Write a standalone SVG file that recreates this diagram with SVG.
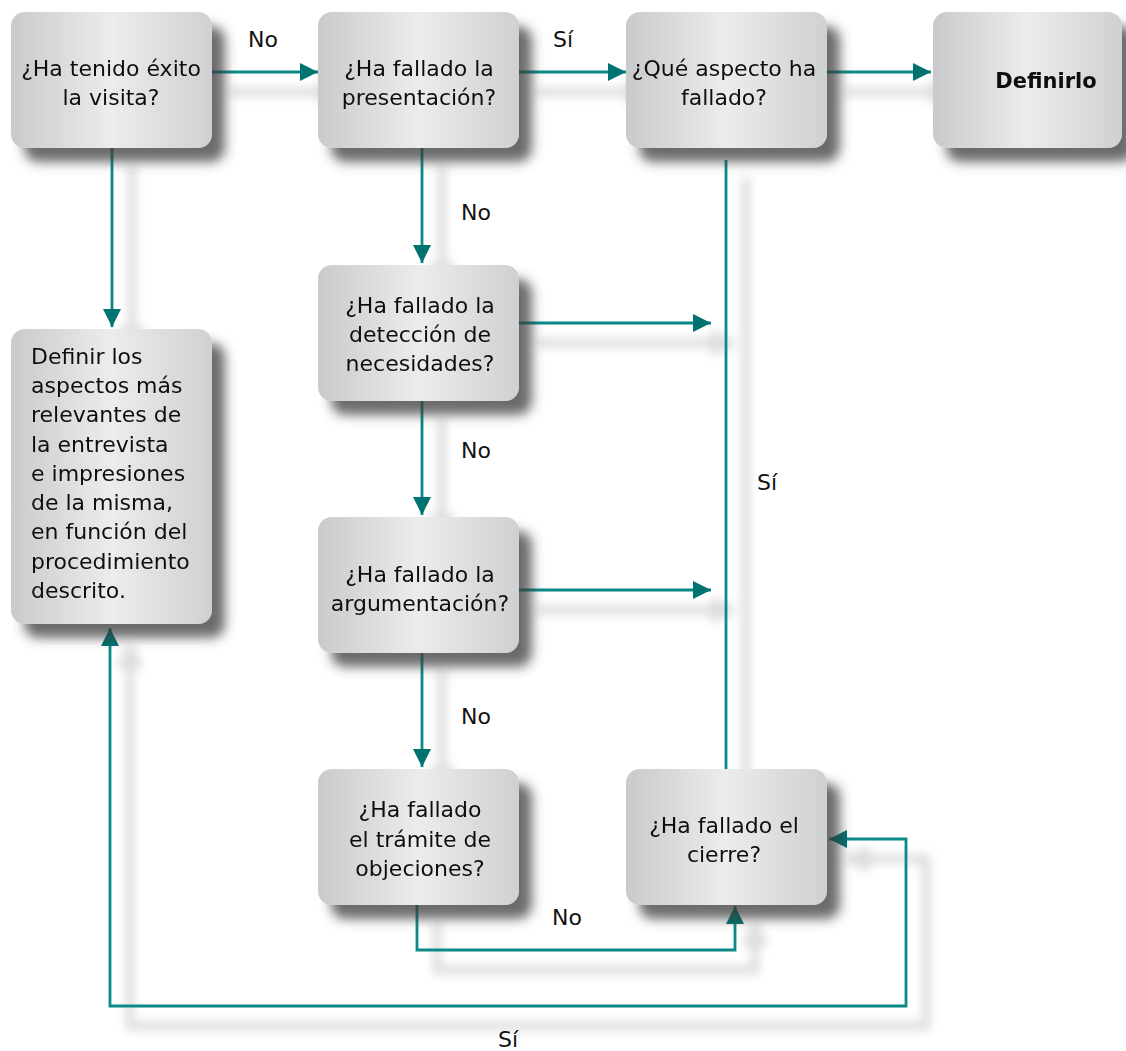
<svg xmlns="http://www.w3.org/2000/svg" width="1126" height="1051" viewBox="0 0 1126 1051">
<defs>
<linearGradient id="g" x1="0" y1="0" x2="1" y2="0">
<stop offset="0" stop-color="#c9cacc"/>
<stop offset="0.5" stop-color="#ececec"/>
<stop offset="1" stop-color="#cfd0d2"/>
</linearGradient>
<filter id="ns" x="-20%" y="-20%" width="150%" height="150%">
<feGaussianBlur in="SourceAlpha" stdDeviation="6"/>
<feOffset dx="13" dy="14" result="b"/>
<feFlood flood-color="#3a3a3a" flood-opacity="0.75"/>
<feComposite in2="b" operator="in" result="s"/>
<feMerge><feMergeNode in="s"/><feMergeNode in="SourceGraphic"/></feMerge>
</filter>
<filter id="cs" x="-10%" y="-10%" width="130%" height="130%">
<feMorphology in="SourceAlpha" operator="dilate" radius="3"/>
<feGaussianBlur stdDeviation="5"/>
<feOffset dx="20" dy="20" result="b"/>
<feFlood flood-color="#000" flood-opacity="0.13"/>
<feComposite in2="b" operator="in" result="s"/>
<feMerge><feMergeNode in="s"/><feMergeNode in="SourceGraphic"/></feMerge>
</filter>
<marker id="ah" viewBox="0 0 18 18" refX="18" refY="9" markerWidth="18" markerHeight="18" markerUnits="userSpaceOnUse" orient="auto-start-reverse">
<path d="M0,0 L18,9 L0,18 Z" fill="#00736f"/>
</marker>
<style>
.box{fill:url(#g);}
.t{font-family:"DejaVu Sans",Verdana,sans-serif;font-size:22px;fill:#111;text-anchor:middle;}
.tl{font-family:"DejaVu Sans",Verdana,sans-serif;font-size:22px;fill:#111;}
.lb{font-family:"DejaVu Sans",Verdana,sans-serif;font-size:22px;fill:#111;text-anchor:middle;}
.c{fill:none;stroke:#0b8a87;stroke-width:2.8;}
</style>
</defs>
<rect width="1126" height="1051" fill="#fff"/>

<g id="connectors" filter="url(#cs)">
<path class="c" d="M212,72 H318" marker-end="url(#ah)"/>
<path class="c" d="M519,72 H626" marker-end="url(#ah)"/>
<path class="c" d="M827,72 H931" marker-end="url(#ah)"/>
<path class="c" d="M112,148 V327" marker-end="url(#ah)"/>
<path class="c" d="M422,148 V263" marker-end="url(#ah)"/>
<path class="c" d="M422,401 V515" marker-end="url(#ah)"/>
<path class="c" d="M422,653 V767" marker-end="url(#ah)"/>
<path class="c" d="M519,323 H711" marker-end="url(#ah)"/>
<path class="c" d="M519,590 H711" marker-end="url(#ah)"/>
<path class="c" d="M726,160 V769"/>
<path class="c" d="M417,905 V950 H735 V906" marker-end="url(#ah)"/>
<path class="c" d="M829,839 H906 V1006 H110 V628" marker-start="url(#ah)" marker-end="url(#ah)"/>
</g>

<g id="n1" filter="url(#ns)"><rect class="box" x="11" y="12" width="201" height="136" rx="14"/>
<text class="t" x="111" y="76">¿Ha tenido éxito</text><text class="t" x="111" y="105">la visita?</text></g>
<g id="n2" filter="url(#ns)"><rect class="box" x="318" y="12" width="201" height="136" rx="14"/>
<text class="t" x="419" y="76">¿Ha fallado la</text><text class="t" x="419" y="105">presentación?</text></g>
<g id="n3" filter="url(#ns)"><rect class="box" x="626" y="12" width="201" height="136" rx="14"/>
<text class="t" x="724" y="76">¿Qué aspecto ha</text><text class="t" x="724" y="105">fallado?</text></g>
<g id="n4" filter="url(#ns)"><rect class="box" x="933" y="12" width="189" height="136" rx="14"/>
<text class="t" x="1046" y="88" style="font-weight:bold;font-size:21px">Definirlo</text></g>
<g id="n5" filter="url(#ns)"><rect class="box" x="318" y="265" width="201" height="136" rx="14"/>
<text class="t" x="420" y="313">¿Ha fallado la</text><text class="t" x="420" y="342">detección de</text><text class="t" x="420" y="371">necesidades?</text></g>
<g id="n6" filter="url(#ns)"><rect class="box" x="318" y="517" width="201" height="136" rx="14"/>
<text class="t" x="420" y="582">¿Ha fallado la</text><text class="t" x="420" y="611">argumentación?</text></g>
<g id="n7" filter="url(#ns)"><rect class="box" x="318" y="769" width="201" height="136" rx="14"/>
<text class="t" x="420" y="817">¿Ha fallado</text><text class="t" x="420" y="847">el trámite de</text><text class="t" x="420" y="876">objeciones?</text></g>
<g id="n8" filter="url(#ns)"><rect class="box" x="626" y="769" width="201" height="136" rx="14"/>
<text class="t" x="724" y="833">¿Ha fallado el</text><text class="t" x="724" y="862">cierre?</text></g>
<g id="n9" filter="url(#ns)"><rect class="box" x="11" y="329" width="201" height="295" rx="14"/>
<text class="tl" x="31" y="364">Definir los</text>
<text class="tl" x="31" y="393">aspectos más</text>
<text class="tl" x="31" y="422">relevantes de</text>
<text class="tl" x="31" y="452">la entrevista</text>
<text class="tl" x="31" y="481">e impresiones</text>
<text class="tl" x="31" y="510">de la misma,</text>
<text class="tl" x="31" y="539">en función del</text>
<text class="tl" x="31" y="569">procedimiento</text>
<text class="tl" x="31" y="598">descrito.</text></g>

<g id="labels">
<text class="lb" x="263" y="47">No</text>
<text class="lb" x="563" y="47">Sí</text>
<text class="lb" x="476" y="220">No</text>
<text class="lb" x="476" y="458">No</text>
<text class="lb" x="476" y="724">No</text>
<text class="lb" x="767" y="490">Sí</text>
<text class="lb" x="567" y="925">No</text>
<text class="lb" x="508" y="1047">Sí</text>
</g>
</svg>
